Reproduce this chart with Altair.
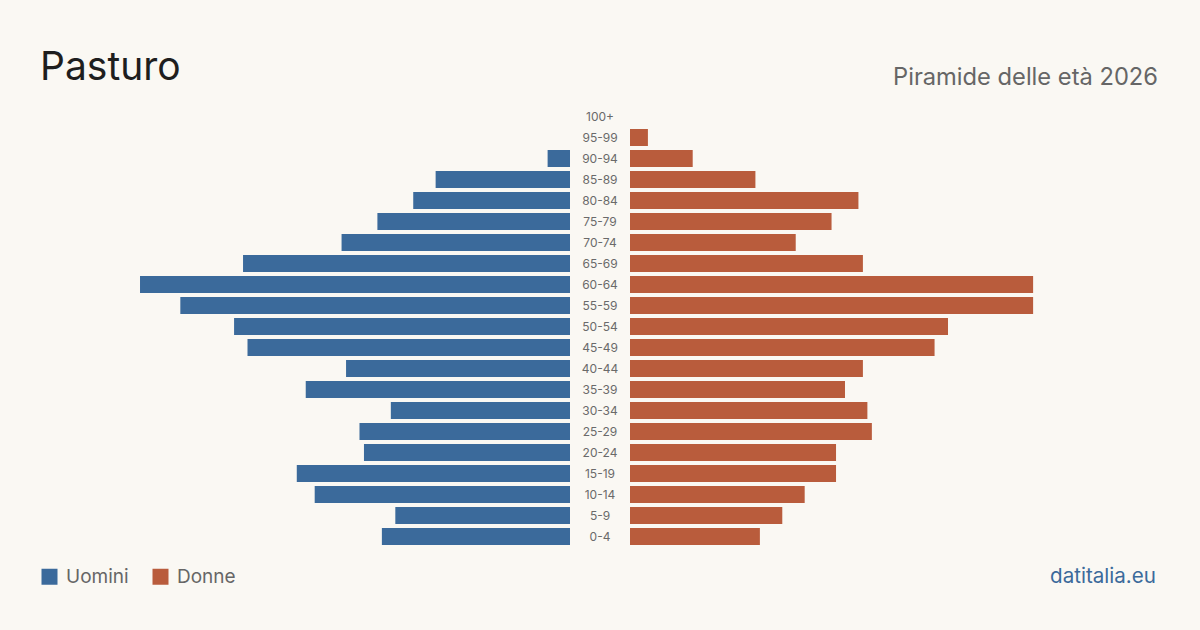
import altair as alt
import pandas as pd

ages = ["100+", "95-99", "90-94", "85-89", "80-84", "75-79", "70-74", "65-69",
        "60-64", "55-59", "50-54", "45-49", "40-44", "35-39", "30-34", "25-29",
        "20-24", "15-19", "10-14", "5-9", "0-4"]
men = [0, 0, 5, 30, 35, 43, 51, 73, 96, 87, 75, 72, 50, 59, 40, 47, 46, 61, 57, 39, 42]
women = [0, 4, 14, 28, 51, 45, 37, 52, 90, 90, 71, 68, 52, 48, 53, 54, 46, 46, 39, 34, 29]

BLUE = "#3b6a9b"
ORANGE = "#b95c3c"
FONT = "Inter"
XMAX = 127.26

dm = pd.DataFrame({"age": ages, "value": men, "sex": "Uomini"})
dw = pd.DataFrame({"age": ages, "value": women, "sex": "Donne"})
dl = pd.DataFrame({"age": ages})

yenc = alt.Y("age:N", sort=ages, axis=None,
             scale=alt.Scale(range=[106, 547], paddingInner=0.19, paddingOuter=0.095))
color = alt.Color("sex:N", scale=alt.Scale(domain=["Uomini", "Donne"], range=[BLUE, ORANGE]),
                  legend=alt.Legend(orient="none", legendX=40, legendY=567, direction="horizontal",
                                    title=None, symbolType="square", symbolSize=256,
                                    symbolStrokeWidth=0, labelFontSize=19, labelFont=FONT,
                                    labelColor="#666666", labelOffset=7, columnPadding=22,
                                    symbolOpacity=1))

left_bars = alt.Chart(dm).mark_bar().encode(
    x=alt.X("value:Q", scale=alt.Scale(domain=[0, XMAX], range=[570, 0]), axis=None),
    y=yenc, color=color)

right_bars = alt.Chart(dw).mark_bar().encode(
    x=alt.X("value:Q", scale=alt.Scale(domain=[0, XMAX], range=[630, 1200]), axis=None),
    y=yenc, color=color)

labels = alt.Chart(dl).mark_text(font=FONT, fontSize=12, color="#6a6a6a", align="center",
                                 baseline="middle").encode(
    x=alt.value(600), y=yenc, text="age:N")

title_df = pd.DataFrame({"t": ["Pasturo"]})
title = alt.Chart(title_df).mark_text(font=FONT, fontSize=39, color="#1e1e1e", align="left",
                                      baseline="alphabetic").encode(
    x=alt.value(40), y=alt.value(80), text="t:N")

sub_df = pd.DataFrame({"t": ["Piramide delle età 2026"]})
sub = alt.Chart(sub_df).mark_text(font=FONT, fontSize=23.7, color="#666666", align="right",
                                  baseline="alphabetic").encode(
    x=alt.value(1158), y=alt.value(85), text="t:N")

site_df = pd.DataFrame({"t": ["datitalia.eu"]})
site = alt.Chart(site_df).mark_text(font=FONT, fontSize=20.6, color=BLUE, align="right",
                                    baseline="alphabetic").encode(
    x=alt.value(1156), y=alt.value(583), text="t:N")

chart = alt.layer(left_bars, right_bars, labels, title, sub, site).resolve_scale(
    x="independent"
).properties(
    width=1200, height=630,
    autosize=alt.AutoSizeParams(type="none"),
    padding=0,
    background="#faf8f3",
).configure_view(stroke=None)

chart.save("out.html", embed_options={"renderer": "svg", "actions": False})
